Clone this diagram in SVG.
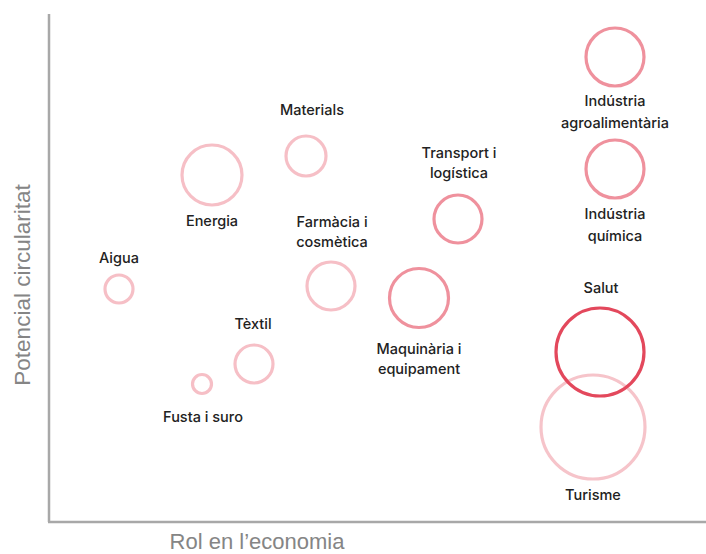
<svg xmlns="http://www.w3.org/2000/svg" width="706" height="554" viewBox="0 0 706 554">
<style>
.lbl{font-family:Inter,"Liberation Sans",Arial,sans-serif;font-size:14.5px;font-weight:500;fill:#222;text-anchor:middle;}
.ax{font-family:"Liberation Sans",Arial,sans-serif;font-size:22px;fill:#858585;text-anchor:middle;}
circle{fill:none;stroke-width:3.2;}
.c1{stroke:#f6bfc6;}
.c2{stroke:#ef919d;}
.c3{stroke:#e3485c;}
.c4{stroke:#f6c4ca;}
</style>
<rect width="706" height="554" fill="#fff"/>
<g id="axes">
<line x1="49" y1="14" x2="49" y2="522" stroke="#a8a8a8" stroke-width="2.5"/>
<line x1="48" y1="522" x2="706" y2="522" stroke="#a8a8a8" stroke-width="2.5"/>
<text class="ax" transform="translate(30,285) rotate(-90)" style="font-size:22.5px">Potencial circularitat</text>
<text class="ax" x="257" y="549">Rol en l’economia</text>
</g>
<g id="agroalimentaria">
<circle class="c2" cx="615" cy="57" r="29"/>
<text class="lbl" x="615" y="106">Indústria</text>
<text class="lbl" x="615" y="128">agroalimentària</text>
</g>
<g id="quimica">
<circle class="c2" cx="615" cy="169" r="29"/>
<text class="lbl" x="615" y="219">Indústria</text>
<text class="lbl" x="615" y="241">química</text>
</g>
<g id="turisme">
<circle class="c4" cx="593" cy="427" r="52"/>
<text class="lbl" x="593" y="500">Turisme</text>
</g>
<g id="salut">
<circle class="c3" cx="600" cy="352" r="44"/>
<text class="lbl" x="601" y="293">Salut</text>
</g>
<g id="energia">
<circle class="c1" cx="212" cy="175" r="30"/>
<text class="lbl" x="212" y="226">Energia</text>
</g>
<g id="materials">
<circle class="c1" cx="306" cy="156" r="20"/>
<text class="lbl" x="312" y="115">Materials</text>
</g>
<g id="transport">
<circle class="c2" cx="458" cy="219" r="24"/>
<text class="lbl" x="459" y="158">Transport i</text>
<text class="lbl" x="459" y="178">logística</text>
</g>
<g id="farmacia">
<circle class="c1" cx="331" cy="286" r="24"/>
<text class="lbl" x="332" y="227">Farmàcia i</text>
<text class="lbl" x="332" y="247">cosmètica</text>
</g>
<g id="maquinaria">
<circle class="c2" cx="419" cy="298" r="29.5"/>
<text class="lbl" x="419" y="354">Maquinària i</text>
<text class="lbl" x="419" y="374">equipament</text>
</g>
<g id="aigua">
<circle class="c1" cx="119" cy="289" r="14"/>
<text class="lbl" x="119" y="263">Aigua</text>
</g>
<g id="textil">
<circle class="c1" cx="254" cy="364" r="19"/>
<text class="lbl" x="253" y="329">Tèxtil</text>
</g>
<g id="fusta">
<circle class="c1" cx="202" cy="384" r="9.5"/>
<text class="lbl" x="203" y="422">Fusta i suro</text>
</g>
</svg>
